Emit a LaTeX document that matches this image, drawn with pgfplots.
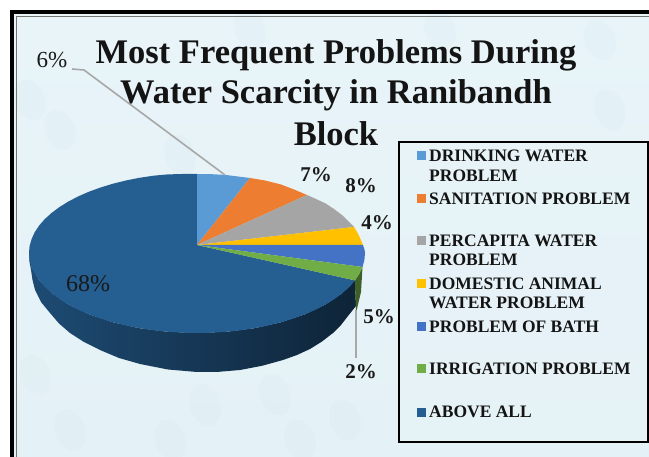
\documentclass[border=0pt]{standalone}
\usepackage{pgfplots}
\pgfplotsset{compat=1.18}
\usepackage{fontspec}
\setmainfont{Liberation Serif}
\definecolor{bgblue}{HTML}{E4F1F6}
\definecolor{bgpale}{HTML}{E8F4F8}
\definecolor{bgdrop}{HTML}{D6E7EE}
\definecolor{cdrink}{HTML}{5B9BD5}
\definecolor{csanit}{HTML}{ED7D31}
\definecolor{cpercap}{HTML}{A5A5A5}
\definecolor{cdomes}{HTML}{FFC000}
\definecolor{cbath}{HTML}{4472C4}
\definecolor{cirrig}{HTML}{70AD47}
\definecolor{cabove}{HTML}{255E91}
\definecolor{cleader}{HTML}{A8A8A8}
\newcommand{\pct}[3]{\node[font=\bfseries\fontsize{#3}{#3}\selectfont, text=black!90] at (axis cs:#1) {#2};}
\newcommand{\lgd}[2]{\node[anchor=west, font=\bfseries\fontsize{17.5}{17.5}\selectfont, text=black!92, inner sep=0pt] at (axis cs:#1) {#2};}
\newcommand{\drop}[1]{\fill[bgdrop, opacity=0.18] (axis cs:#1) ellipse [x radius=15pt, y radius=21pt, rotate=20];}
\begin{document}
\begin{tikzpicture}
\begin{axis}[
  width=649pt, height=457pt,
  scale only axis,
  hide axis,
  xmin=0, xmax=649,
  ymin=0, ymax=457,
  y dir=reverse,
]
% background and frame
\addplot[fill=white, draw=none] coordinates {(0,0) (649,0) (649,457) (0,457)} --cycle;
\addplot[top color=bgpale, bottom color=bgblue, draw=none] coordinates {(12,12) (649,12) (649,457) (12,457)} --cycle;
\drop{35,375} \drop{70,430} \drop{205,405} \drop{275,395} \drop{300,440} \drop{170,440}
\drop{345,420} \drop{60,130} \drop{30,100} \drop{180,155} \drop{610,110} \drop{600,40} \drop{440,30}
\drop{250,30}
\addplot[black, line width=4pt] coordinates {(12,457) (12,12) (649,12)};
\addplot[black!55, line width=0.7pt] coordinates {(16,457) (16,16) (649,16)};

% side wall
\addplot[left color=cabove!80!black, middle color=cabove!65!black, right color=cabove!38!black, draw=none] coordinates {
  (29,253) (31.6,267) (39.1,280.4) (51.5,293) (68.3,304.4) (89,314.3) (113,322.3)
  (139.5,328.2) (167.8,331.8) (197,333) (226.2,331.8) (254.5,328.2) (281,322.3)
  (305,314.3) (325.7,304.4) (342.5,293) (354.9,280.4)
  (356,306) (348,316) (341,325) (333,333) (322,341.5) (310,349) (297,355) (283,360)
  (262,365.8) (240,370) (219,371.8) (197,372) (168,369.5) (140,364) (119,358) (100,350)
  (84,342) (70,333) (59,323.5) (50,313) (41,302) (35,290) (32.5,280) (31,270) (29.5,262)
} --cycle;
\addplot[fill=cirrig!55!black, draw=none] coordinates {(362.5,267) (359.3,273.7) (354.9,280.4) (356,313) (361,292)} --cycle;

% top face, slices
\addplot[fill=cabove, draw=none] coordinates {
  (197,245) (354.9,280.4) (349.7,286.8) (342.5,293) (334.6,298.9) (325.7,304.4) (315.8,309.6)
  (305,314.3) (293.4,318.5) (281,322.3) (268,325.5) (254.5,328.2) (240.5,330.3) (226.2,331.8)
  (211.6,332.7) (197,333) (182.4,332.7) (167.8,331.8) (153.5,330.3) (139.5,328.2) (126,325.5)
  (113,322.3) (100.6,318.5) (89,314.3) (78.2,309.6) (68.3,304.4) (59.4,298.9) (51.5,293)
  (44.7,286.8) (39.1,280.4) (34.7,273.7) (31.6,267) (29.6,260) (29,253) (29.6,246) (31.6,239.1)
  (34.7,232.3) (39.1,225.6) (44.7,219.2) (51.5,213) (59.4,207.1) (68.3,201.6) (78.2,196.4)
  (89,191.7) (100.6,187.5) (113,183.7) (126,180.5) (139.5,177.8) (153.5,175.7) (167.8,174.4)
  (182.4,174) (197,174)
} --cycle;
\addplot[fill=cdrink, draw=none] coordinates {(197,245) (197,174) (212,174.2) (226.2,175) (250,178)} --cycle;
\addplot[fill=csanit, draw=none] coordinates {(197,245) (250,178) (265,180.5) (281,184.5) (294,189.5) (307,195)} --cycle;
\addplot[fill=cpercap, draw=none] coordinates {(197,245) (307,195) (316,199) (325.7,203.5) (334,209) (342.5,215.5) (348,221) (354,227)} --cycle;
\addplot[fill=cdomes, draw=none] coordinates {(197,245) (354,227) (357,232) (360,238) (363,245)} --cycle;
\addplot[fill=cbath, draw=none] coordinates {(197,245) (363,245) (364.6,250) (365,253) (364.4,260) (362.5,267)} --cycle;
\addplot[fill=cirrig, draw=none] coordinates {(197,245) (362.5,267) (359.3,273.7) (354.9,280.4)} --cycle;

% leader lines
\addplot[cleader, line width=1.6pt] coordinates {(72,69) (84,70) (225,175)};
\addplot[cleader, line width=1.6pt] coordinates {(356,310) (356,358)};

% title
\node[font=\bfseries\fontsize{34.5}{34.5}\selectfont, text=black!92] at (axis cs:336,55) {Most Frequent Problems During};
\node[font=\bfseries\fontsize{34.5}{34.5}\selectfont, text=black!92] at (axis cs:336,95) {Water Scarcity in Ranibandh};
\node[font=\bfseries\fontsize{34.5}{34.5}\selectfont, text=black!92] at (axis cs:336,134) {Block};

% data labels
\node[font=\fontsize{23}{23}\selectfont, text=black!90] at (axis cs:52,60) {6\%};
\pct{316,175}{7\%}{21}
\pct{361,186}{8\%}{21}
\pct{377,223}{4\%}{21}
\pct{379,317}{5\%}{21}
\pct{361,372}{2\%}{21}
\node[font=\fontsize{24}{24}\selectfont, text=black!90] at (axis cs:88,284) {68\%};

% legend box
\addplot[fill=bgpale, fill opacity=0.35, draw=black, line width=2pt] coordinates {(399,142) (648,142) (648,442) (399,442)} --cycle;
\addplot[only marks, mark=square*, mark size=4pt, cdrink] coordinates {(421,155)};
\addplot[only marks, mark=square*, mark size=4pt, csanit] coordinates {(421,198)};
\addplot[only marks, mark=square*, mark size=4pt, cpercap] coordinates {(421,240)};
\addplot[only marks, mark=square*, mark size=4pt, cdomes] coordinates {(421,283)};
\addplot[only marks, mark=square*, mark size=4pt, cbath] coordinates {(421,326)};
\addplot[only marks, mark=square*, mark size=4pt, cirrig] coordinates {(421,368)};
\addplot[only marks, mark=square*, mark size=4pt, cabove] coordinates {(421,412)};
\lgd{429,156}{DRINKING WATER}
\lgd{429,176}{PROBLEM}
\lgd{429,199}{SANITATION PROBLEM}
\lgd{429,241}{PERCAPITA WATER}
\lgd{429,260}{PROBLEM}
\lgd{429,284}{DOMESTIC ANIMAL}
\lgd{429,303}{WATER PROBLEM}
\lgd{429,327}{PROBLEM OF BATH}
\lgd{429,369}{IRRIGATION PROBLEM}
\lgd{429,412}{ABOVE ALL}
\end{axis}
\end{tikzpicture}
\end{document}
